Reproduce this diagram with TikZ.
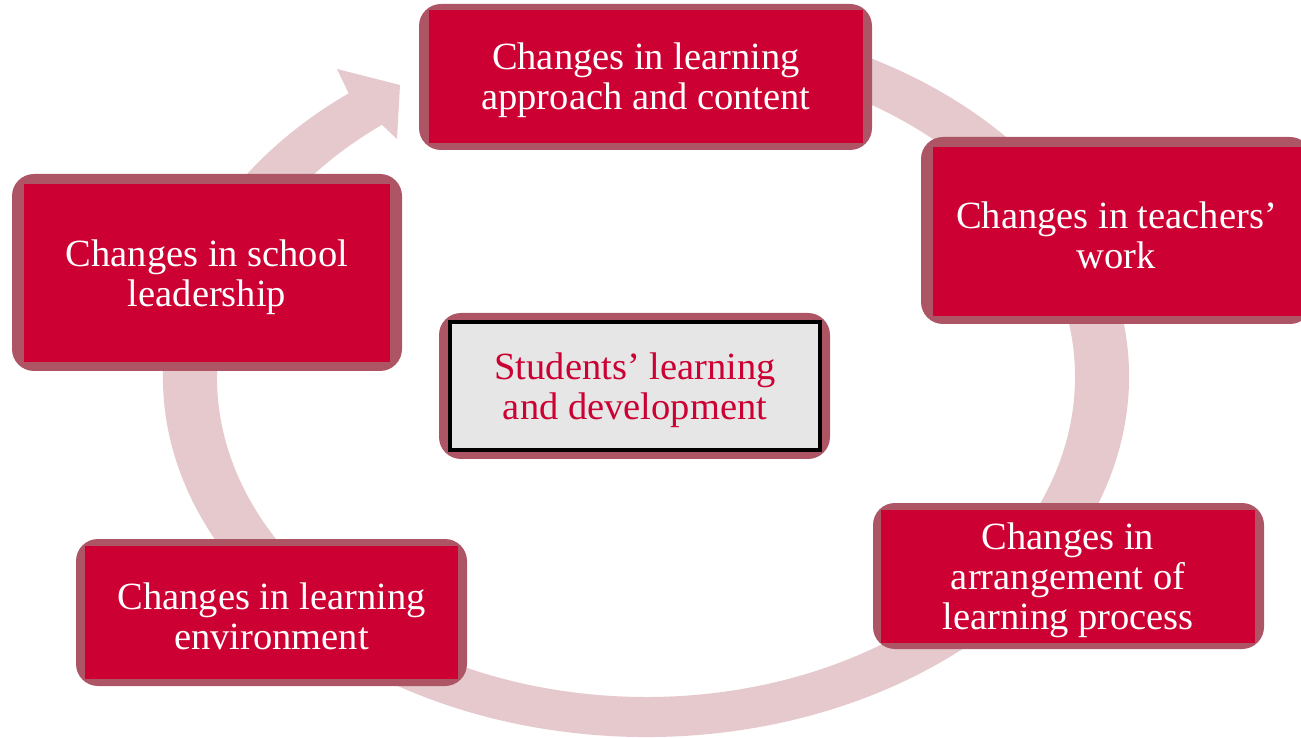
\documentclass[tikz,border=0pt]{standalone}
\usepackage{fontspec}
\setmainfont{Liberation Serif}
\definecolor{boxred}{RGB}{204,0,51}
\definecolor{boxrim}{RGB}{173,85,101}
\definecolor{ringpink}{RGB}{229,201,205}
\definecolor{coregray}{RGB}{230,230,230}
\tikzset{
  rim/.style={fill=boxrim, rounded corners=22pt},
  redfill/.style={fill=boxred},
  corefill/.style={fill=coregray, draw=black, line width=4pt},
  boxtext/.style={inner sep=0pt, outer sep=0pt, align=center, text=white, font=\fontsize{38.5}{40}\selectfont},
  coretext/.style={boxtext, text=boxred},
  ring/.style={fill=ringpink}
}
\begin{document}
\begin{tikzpicture}[x=1pt,y=1pt]
\useasboundingbox (0,0) rectangle (1301,737);
% cycle ring with arrowhead
\fill[ring] ({646+483*cos(80)},{360+360*sin(80)})
  arc[start angle=80, end angle=-232, x radius=483, y radius=360]
  -- (337,668) -- (400,652) -- (397,598)
  -- ({646+429*cos(-232)},{360+320*sin(-232)})
  arc[start angle=-232, end angle=80, x radius=429, y radius=320] -- cycle;
% rims
\fill[rim] (419,587) rectangle (872,733);
\fill[rim] (921,413) rectangle (1312,600);
\fill[rim] (12,366) rectangle (402,563);
\fill[rim] (439,278) rectangle (830,424);
\fill[rim] (873,88) rectangle (1264,234);
\fill[rim] (76,51) rectangle (467,198);
% inner panels
\fill[redfill] (429,594) rectangle (863,727);
\fill[redfill] (933,421) rectangle (1302,590);
\fill[redfill] (24,375) rectangle (390,553);
\draw[corefill] (450,287) rectangle (820,415);
\fill[redfill] (881,94) rectangle (1255,227);
\fill[redfill] (85,58) rectangle (458,191);
% texts
\node[boxtext] (approach) at (646,656.5) {Changes in learning\\approach and content};
\node[boxtext] (teachers) at (1116.5,501.5) {Changes in teachers’\\work};
\node[boxtext] (leadership) at (207,460) {Changes in school\\leadership};
\node[coretext] (students) at (635,347) {Students’ learning\\and development};
\node[boxtext] (arrangement) at (1068,156.5) {Changes in\\arrangement of\\learning process};
\node[boxtext] (environment) at (271.5,120.5) {Changes in learning\\environment};
\end{tikzpicture}
\end{document}
